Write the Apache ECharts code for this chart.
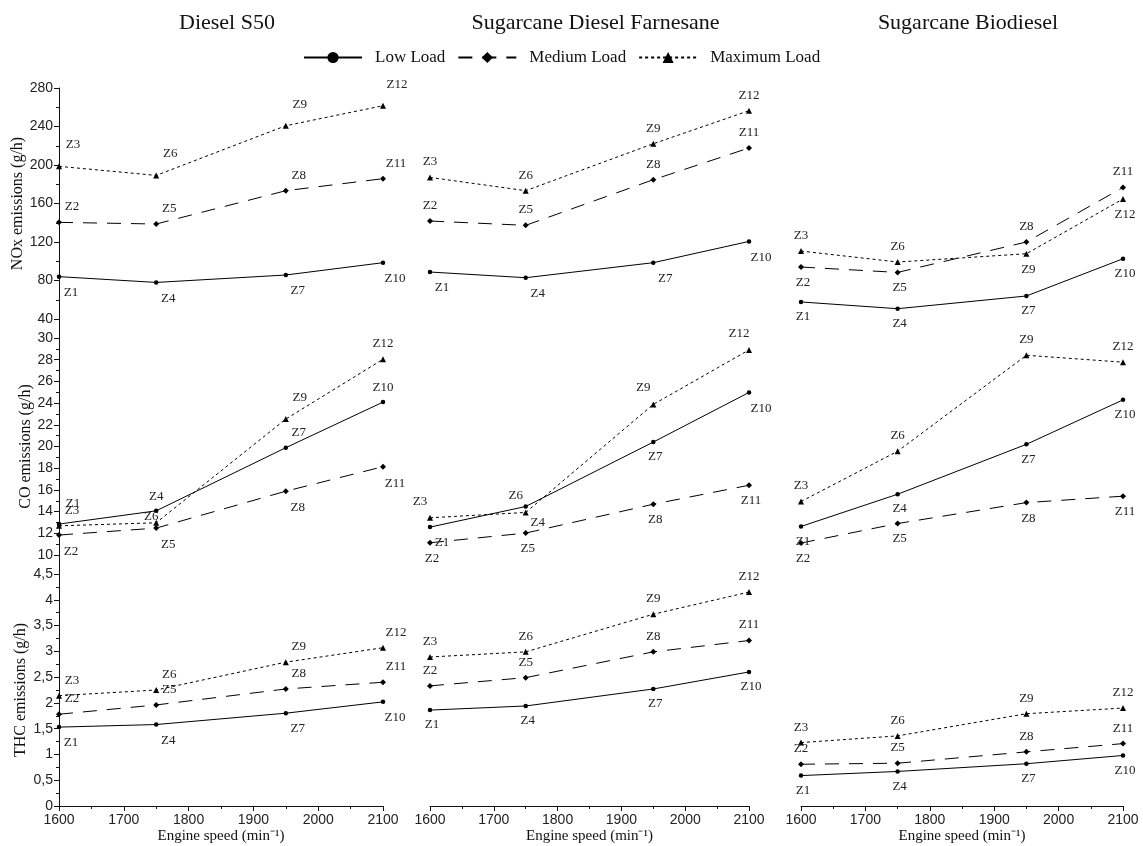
<!DOCTYPE html>
<html><head><meta charset="utf-8">
<script src="https://cdn.jsdelivr.net/npm/echarts@6/dist/echarts.min.js"></script>
<style>html,body{margin:0;padding:0;background:#fff}#c{width:1143px;height:846px}</style>
</head><body><div id="c"></div>
<script>
// ---------- DATA ----------
const speeds = [1600, 1750, 1950, 2100];
const fuels = ['Diesel S50', 'Sugarcane Diesel Farnesane', 'Sugarcane Biodiesel'];
const loads = ['Low Load', 'Medium Load', 'Maximum Load'];
const pointNamesLow = ['Z1', 'Z4', 'Z7', 'Z10'];
const pointNamesMedium = ['Z2', 'Z5', 'Z8', 'Z11'];
const pointNamesMax = ['Z3', 'Z6', 'Z9', 'Z12'];
const yNames = ['NOx emissions (g/h)', 'CO emissions (g/h)', 'THC emissions (g/h)'];
const xName = 'Engine speed (min\u207B\u00B9)';

// NOx (g/h)
const noxDieselLow = [84, 78, 85.7, 98.5];
const noxDieselMedium = [140.4, 138.7, 173.3, 185.8];
const noxDieselMax = [198.6, 189.2, 240.8, 261.6];
const noxFarnesaneLow = [88.8, 82.9, 98.5, 120.6];
const noxFarnesaneMedium = [141.8, 137.3, 184.7, 217.7];
const noxFarnesaneMax = [187.1, 173.3, 222.1, 256.4];
const noxBiodieselLow = [57.7, 50.7, 63.9, 102.6];
const noxBiodieselMedium = [94, 88.4, 120, 176.7];
const noxBiodieselMax = [110.6, 99.2, 107.8, 164.7];
// CO (g/h)
const coDieselLow = [12.85, 14.07, 19.89, 24.09];
const coDieselMedium = [11.84, 12.48, 15.88, 18.14];
const coDieselMax = [12.69, 12.97, 22.53, 28.04];
const coFarnesaneLow = [12.57, 14.47, 20.41, 24.98];
const coFarnesaneMedium = [11.13, 12.02, 14.68, 16.43];
const coFarnesaneMax = [13.43, 13.92, 23.88, 28.9];
const coBiodieselLow = [12.63, 15.6, 20.2, 24.3];
const coBiodieselMedium = [11.1, 12.9, 14.83, 15.42];
const coBiodieselMax = [14.93, 19.56, 28.41, 27.77];
// THC (g/h)
const thcDieselLow = [1.53, 1.58, 1.80, 2.02];
const thcDieselMedium = [1.78, 1.96, 2.27, 2.40];
const thcDieselMax = [2.14, 2.25, 2.79, 3.07];
const thcFarnesaneLow = [1.86, 1.94, 2.27, 2.60];
const thcFarnesaneMedium = [2.33, 2.49, 2.99, 3.21];
const thcFarnesaneMax = [2.89, 2.99, 3.72, 4.15];
const thcBiodieselLow = [0.59, 0.67, 0.82, 0.98];
const thcBiodieselMedium = [0.81, 0.83, 1.05, 1.21];
const thcBiodieselMax = [1.23, 1.36, 1.79, 1.90];

// axis ranges
const xRange = { min: 1600, max: 2100, interval: 100 };
const yRanges = [
  { min: 40, max: 280, interval: 40 },
  { min: 10, max: 30, interval: 2 },
  { min: 0, max: 4.5, interval: 0.5 }
];

// ---------- STRUCTURE ----------
const panelData = [
  [[noxDieselLow, noxDieselMedium, noxDieselMax], [noxFarnesaneLow, noxFarnesaneMedium, noxFarnesaneMax], [noxBiodieselLow, noxBiodieselMedium, noxBiodieselMax]],
  [[coDieselLow, coDieselMedium, coDieselMax], [coFarnesaneLow, coFarnesaneMedium, coFarnesaneMax], [coBiodieselLow, coBiodieselMedium, coBiodieselMax]],
  [[thcDieselLow, thcDieselMedium, thcDieselMax], [thcFarnesaneLow, thcFarnesaneMedium, thcFarnesaneMax], [thcBiodieselLow, thcBiodieselMedium, thcBiodieselMax]]
];
const pointNames = [pointNamesLow, pointNamesMedium, pointNamesMax];

// label placement codes (style only)
const labelLayoutCodes = [
  [
    [['BR','BR','BR','BR'], ['TR','TR','TR','TR'], ['TR2','TR2','TR2','TR2']],
    [['BR','BR','BR','BR'], ['T','T','T','T'], ['T','T','T','T']],
    [['B','B','B','B'], ['B','B','T','T'], ['T','T','B','B']]
  ],
  [
    [['TR2','T','TR','T'], ['BR','BR','BR','BR'], ['TR','TLc','TR2','T']],
    [['BR','BR','B','BR'], ['B','B','B','B'], ['TL','TL','TL','TL']],
    [['B','B','B','B'], ['B','B','B','B'], ['T','T','T','T']]
  ],
  [
    [['BR','BR','BR','BR'], ['TR','TR','TR','TR'], ['TR','TR','TR','TR']],
    [['B','B','B','B'], ['T','T','T','T'], ['T','T','T','T']],
    [['B','B','B','B'], ['T','T','T','T'], ['T','T','T','T']]
  ]
];
const labelCodes = {
  T: { position: 'top', dx: 0, dy: -1 },
  TR: { position: 'top', dx: 13, dy: -1 },
  TR2: { position: 'top', dx: 14, dy: -7 },
  TL: { position: 'top', dx: -10, dy: -2 },
  TLc: { position: 'top', dx: -5, dy: 8 },
  B: { position: 'bottom', dx: 2, dy: 1 },
  BR: { position: 'bottom', dx: 12, dy: 2 }
};

// layout
const cols = [{ left: 59, width: 324 }, { left: 430, width: 319 }, { left: 801, width: 322 }];
const rows = [{ top: 88, height: 231 }, { top: 338, height: 217 }, { top: 574, height: 232 }];
const yNameGaps = [33, 23, 30];

const SANS = 'Liberation Sans, Arial, sans-serif';
const SERIF = 'Liberation Serif, Times New Roman, serif';
const INK = '#111';

const seriesStyles = [
  { symbol: 'circle', symbolSize: 4.5, lineType: 'solid' },
  { symbol: 'diamond', symbolSize: 6, lineType: [14, 10] },
  { symbol: 'triangle', symbolSize: 6, lineType: [3, 3] }
];

const grids = [], xAxes = [], yAxes = [], series = [];
const fmt = v => String(v).replace('.', ',');

for (let r = 0; r < 3; r++) {
  for (let c = 0; c < 3; c++) {
    const idx = r * 3 + c;
    grids.push({ left: cols[c].left, width: cols[c].width, top: rows[r].top, height: rows[r].height, containLabel: false });
    const bottomRow = r === 2;
    xAxes.push({
      gridIndex: idx, type: 'value', min: xRange.min, max: xRange.max, interval: xRange.interval,
      show: bottomRow,
      axisLine: { show: true, onZero: false, lineStyle: { color: INK, width: 1 } },
      axisTick: { show: true, length: 5, lineStyle: { color: INK } },
      minorTick: { show: true, splitNumber: 2, length: 3, lineStyle: { color: INK } },
      splitLine: { show: false },
      axisLabel: { show: true, fontFamily: SANS, fontSize: 14, color: '#222', margin: 7, formatter: v => String(v), showMinLabel: true, showMaxLabel: true },
      name: bottomRow ? xName : '', nameLocation: 'middle', nameGap: 23,
      nameTextStyle: { fontFamily: SERIF, fontSize: 15, color: INK }
    });
    const leftCol = c === 0;
    yAxes.push({
      gridIndex: idx, type: 'value', min: yRanges[r].min, max: yRanges[r].max, interval: yRanges[r].interval,
      show: leftCol,
      axisLine: { show: true, onZero: false, lineStyle: { color: INK, width: 1 } },
      axisTick: { show: true, length: 5, lineStyle: { color: INK } },
      minorTick: { show: true, splitNumber: 2, length: 3, lineStyle: { color: INK } },
      splitLine: { show: false },
      axisLabel: { fontFamily: SANS, fontSize: 14, color: '#222', margin: 6, formatter: fmt, showMinLabel: true, showMaxLabel: true },
      name: leftCol ? yNames[r] : '', nameLocation: 'middle', nameGap: yNameGaps[r],
      nameTextStyle: { fontFamily: SERIF, fontSize: 16, color: INK }
    });
    for (let s = 0; s < 3; s++) {
      const vals = panelData[r][c][s];
      const codes = labelLayoutCodes[r][c][s];
      const st = seriesStyles[s];
      series.push({
        name: loads[s], type: 'line', xAxisIndex: idx, yAxisIndex: idx,
        symbol: st.symbol, symbolSize: st.symbolSize, showSymbol: true,
        lineStyle: { color: '#000', width: 1, type: st.lineType },
        itemStyle: { color: '#000' },
        emphasis: { disabled: true },
        label: { show: true, formatter: '{b}', fontFamily: SERIF, fontSize: 13, color: '#222', distance: 5 },
        labelLayout: function (p) {
          const cd = labelCodes[codes[p.dataIndex]];
          return { dx: cd.dx, dy: cd.dy, hideOverlap: false };
        },
        data: speeds.map((x, i) => ({
          name: pointNames[s][i],
          value: [x, vals[i]],
          label: { position: labelCodes[codes[i]].position }
        }))
      });
    }
  }
}

// titles + axis-line connectors in the left column
const graphics = fuels.map((f, c) => ({
  type: 'text', x: cols[c].left + cols[c].width / 2 + 6, y: 23,
  style: { text: f, fontFamily: SERIF, fontSize: 22, fill: INK, align: 'center', verticalAlign: 'middle' }
}));
for (let r = 0; r < 2; r++) {
  graphics.push({
    type: 'line', silent: true,
    shape: { x1: cols[0].left + 0.5, y1: rows[r].top + rows[r].height, x2: cols[0].left + 0.5, y2: rows[r + 1].top },
    style: { stroke: INK, lineWidth: 1 }
  });
}

const chart = echarts.init(document.getElementById('c'), null, { renderer: 'canvas' });
chart.setOption({
  backgroundColor: '#fff',
  animation: false,
  legend: {
    data: loads, left: 298, top: 44, itemWidth: 58, itemHeight: 14, itemGap: 12,
    textStyle: { fontFamily: SERIF, fontSize: 17, color: INK, padding: [0, 0, 0, 8] },
    selectedMode: false
  },
  grid: grids, xAxis: xAxes, yAxis: yAxes, series: series,
  graphic: graphics
});
</script></body></html>
